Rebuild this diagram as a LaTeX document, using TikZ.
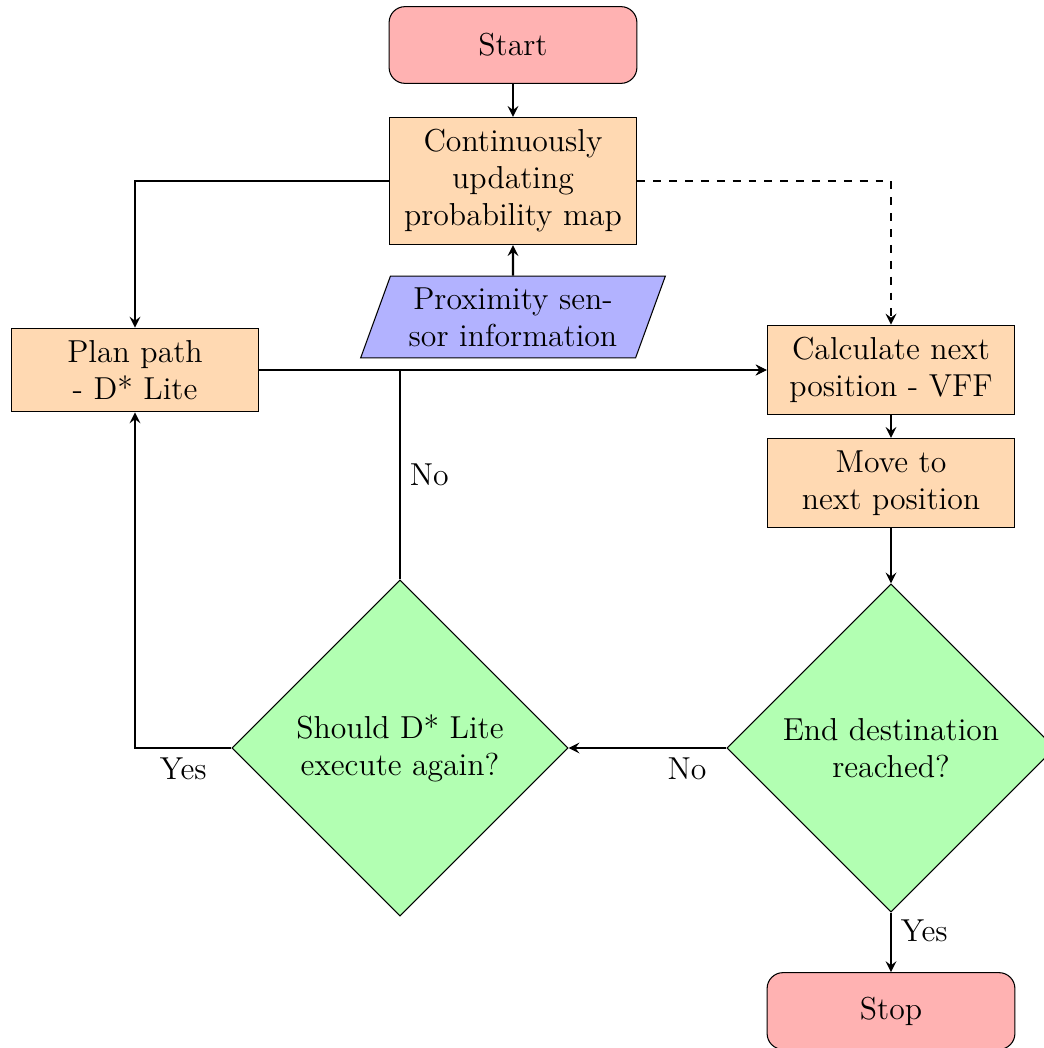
\documentclass[tikz,border=0pt]{standalone}
\usetikzlibrary{shapes.geometric}

\tikzset{
  base/.style={draw, font=\large, align=center, line width=0.4pt},
  startstop/.style={base, rectangle, rounded corners=6pt, text width=87pt,
    minimum height=29pt, fill=red!30},
  process/.style={base, rectangle, text width=87pt, inner ysep=4.6pt, fill=orange!30},
  io/.style={base, trapezium, trapezium left angle=70, trapezium right angle=110,
    text width=86pt, inner ysep=4.3pt, fill=blue!30},
  decision/.style={base, diamond, aspect=1, fill=green!30},
  flow/.style={thick, -stealth},
  lbl/.style={font=\large}
}

\begin{document}
\begin{tikzpicture}[x=0.378pt, y=-0.378pt]
  \useasboundingbox (0,0) rectangle (1044,1048);

  % nodes
  \node[startstop] (start) at (513,45) {Start};
  \node[process] (map) at (513,181) {Continuously\\updating\\probability map};
  \node[io] (sensor) at (513,317) {Proximity sen-\\sor information};
  \node[process] (plan) at (135,370) {Plan path\\- D* Lite};
  \node[process] (calc) at (891,370) {Calculate next\\position - VFF};
  \node[process] (move) at (891,483) {Move to\\next position};
  \node[decision, minimum width=124pt, minimum height=124pt] (goal) at (891,748)
    {End destination\\reached?};
  \node[decision, minimum width=127pt, minimum height=127pt] (replan) at (400,748)
    {Should D* Lite\\execute again?};
  \node[startstop] (stop) at (891,1011) {Stop};

  % connectors
  \draw[flow] (start) -- (map);
  \draw[flow] (sensor) -- (map);
  \draw[flow] (map.west) -| (plan.north);
  \draw[flow, dashed] (map.east) -| (calc.north);
  \draw[flow] (plan.east) -- (calc.west);
  \draw[flow] (calc) -- (move);
  \draw[flow] (move) -- (goal);
  \draw[flow] (goal.west) -- node[lbl, pos=0.25, below] {No} (replan.east);
  \draw[flow] (goal.south) -- node[lbl, pos=0.3, right] {Yes} (stop.north);
  \draw[flow] (replan.north) |- node[lbl, pos=0.25, right] {No} (calc.west);
  \draw[flow] (replan.west) -| node[lbl, pos=0.25, below] {Yes} (plan.south);
\end{tikzpicture}
\end{document}
